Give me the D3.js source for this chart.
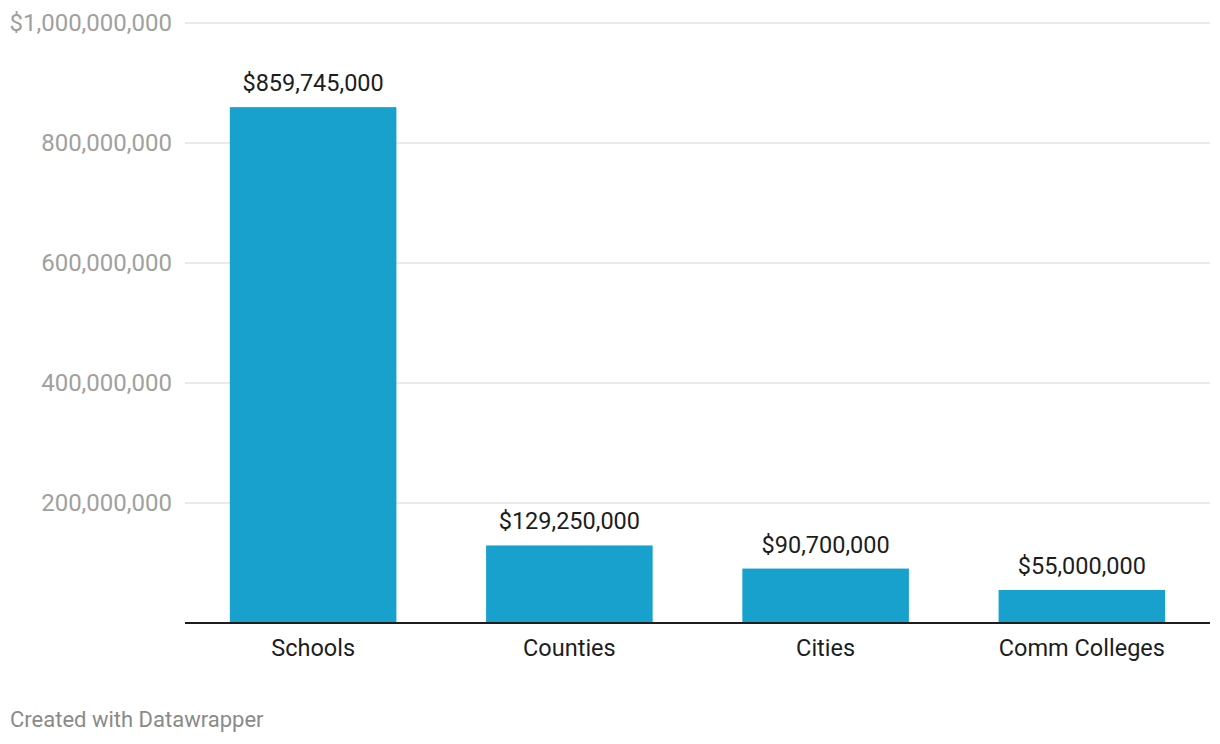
<!DOCTYPE html>
<html>
<head>
<meta charset="utf-8">
<script src="https://cdn.jsdelivr.net/npm/d3@7"></script>
<style>
  body { margin: 0; background: #fff; font-family: Roboto, "Noto Sans", sans-serif; }
</style>
</head>
<body>
<svg id="chart"></svg>
<script>
const categories = ['Schools', 'Counties', 'Cities', 'Comm Colleges'];
const amounts = [859745000, 129250000, 90700000, 55000000];
const yTicks = [0, 200000000, 400000000, 600000000, 800000000, 1000000000];

const W = 1220, H = 744;
const margin = { top: 23, right: 10, bottom: 121, left: 185 };
const width = W - margin.left - margin.right;
const height = H - margin.top - margin.bottom;

const root = d3.select('#chart').attr('width', W).attr('height', H);
const svg = root.append('g')
  .attr('transform', `translate(${margin.left}, ${margin.top})`);

const data = categories.map((c, i) => ({ cat: c, value: amounts[i] }));

const x = d3.scaleBand()
  .domain(categories)
  .range([0, width])
  .paddingInner(0.35)
  .paddingOuter(0.175);

const y = d3.scaleLinear()
  .domain([0, 1000000000])
  .range([height, 0]);

const fmt = d3.format(',');

// gridlines
svg.selectAll('.grid')
  .data(yTicks.filter(d => d > 0))
  .enter()
  .append('line')
  .attr('x1', 0).attr('x2', width)
  .attr('y1', d => y(d)).attr('y2', d => y(d))
  .attr('stroke', '#e3e3e3')
  .attr('stroke-width', 1.5);

// y tick labels
svg.selectAll('.ytick')
  .data(yTicks.filter(d => d > 0))
  .enter()
  .append('text')
  .attr('x', -13)
  .attr('y', d => y(d))
  .attr('dy', '0.35em')
  .attr('text-anchor', 'end')
  .attr('font-size', 24)
  .attr('fill', '#a0a0a0')
  .text(d => (d === 1000000000 ? '$' : '') + fmt(d));

// bars
svg.selectAll('.bar')
  .data(data)
  .enter()
  .append('rect')
  .attr('x', d => x(d.cat))
  .attr('y', d => y(d.value))
  .attr('width', x.bandwidth())
  .attr('height', d => height - y(d.value))
  .attr('fill', '#18a1cd');

// value labels
svg.selectAll('.val')
  .data(data)
  .enter()
  .append('text')
  .attr('x', d => x(d.cat) + x.bandwidth() / 2)
  .attr('y', d => y(d.value) - 16)
  .attr('text-anchor', 'middle')
  .attr('font-size', 23.5)
  .attr('fill', '#1d1d1d')
  .text(d => '$' + fmt(d.value));

// baseline
svg.append('line')
  .attr('x1', 0).attr('x2', width)
  .attr('y1', y(0)).attr('y2', y(0))
  .attr('stroke', '#1d1d1d')
  .attr('stroke-width', 2);

// category labels
svg.selectAll('.cat')
  .data(data)
  .enter()
  .append('text')
  .attr('x', d => x(d.cat) + x.bandwidth() / 2)
  .attr('y', y(0) + 33)
  .attr('text-anchor', 'middle')
  .attr('font-size', 23.5)
  .attr('fill', '#1d1d1d')
  .text(d => d.cat);

root.append('text')
  .attr('x', 10).attr('y', 727)
  .attr('font-size', 22)
  .attr('fill', '#8a8a8a')
  .text('Created with Datawrapper');
</script>
</body>
</html>
